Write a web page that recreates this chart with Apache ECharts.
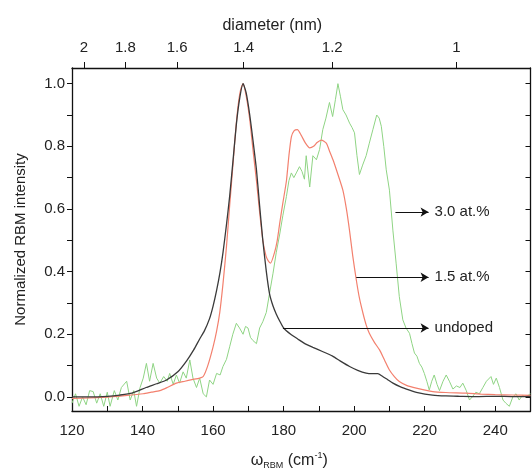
<!DOCTYPE html>
<html>
<head>
<meta charset="utf-8">
<script src="https://cdn.jsdelivr.net/npm/echarts@6/dist/echarts.min.js"></script>
<style>
  html, body { margin: 0; padding: 0; background: #fff; }
  #chart { width: 532px; height: 476px; }
</style>
</head>
<body>
<div id="chart"></div>
<script>
// [omega (cm-1), normalized intensity]
const undoped = [
  [120, 0.0], [125, 0.0], [130, 0.002], [133.6, 0.006], [137, 0.012], [141, 0.03], [144, 0.042],
  [146.8, 0.054], [150, 0.08], [152.5, 0.115], [154.5, 0.15], [156.2, 0.185], [157.5, 0.21],
  [159, 0.25], [160, 0.29], [161, 0.34], [162, 0.4], [162.8, 0.46], [163.8, 0.55], [164.7, 0.64],
  [165.7, 0.76], [166.6, 0.87], [167.5, 0.95], [168.5, 1.0], [169.4, 0.97], [170.4, 0.9],
  [171.3, 0.82], [172.3, 0.725], [173.2, 0.61], [174.1, 0.5], [175.1, 0.4], [176, 0.33],
  [177, 0.29], [177.9, 0.265], [179, 0.24], [180, 0.22], [182, 0.2], [184, 0.185], [186, 0.17],
  [188.3, 0.158], [191, 0.145], [193.9, 0.13], [196, 0.115], [198.7, 0.097], [201, 0.085],
  [203.4, 0.076], [205, 0.074], [206.7, 0.074], [208, 0.066], [209.5, 0.055], [211, 0.044],
  [213, 0.033], [215.7, 0.022], [218, 0.014], [222.2, 0.006], [226, 0.003], [230, 0.002],
  [235, 0.001], [240, 0.002], [245, 0.001], [250, 0.002]
];
const doped15 = [
  [120, -0.005], [125, -0.003], [130.8, 0.0], [135, 0.004], [140.2, 0.01], [142.5, 0.015],
  [144.9, 0.02], [147, 0.03], [149.6, 0.044], [152, 0.05], [154, 0.055], [156.2, 0.06],
  [157.2, 0.065], [158.5, 0.1], [160, 0.16], [161, 0.21], [161.9, 0.27], [162.8, 0.36],
  [163.8, 0.48], [164.7, 0.61], [165.7, 0.75], [166.4, 0.85], [167.1, 0.93], [167.8, 0.98],
  [168.5, 1.0], [169.4, 0.96], [170.4, 0.885], [171.3, 0.79], [172.3, 0.69], [173.2, 0.59],
  [174.1, 0.5], [175, 0.45], [175.6, 0.435], [176.3, 0.427], [177.4, 0.46], [178.2, 0.5],
  [178.9, 0.555], [179.8, 0.62], [180.8, 0.69], [181.5, 0.77], [182.2, 0.83], [183, 0.85],
  [183.9, 0.853], [185, 0.835], [186.2, 0.81], [187.4, 0.795], [188.5, 0.8], [189.5, 0.812],
  [190.7, 0.82], [192.1, 0.81], [193, 0.785], [194, 0.757], [195.4, 0.71], [196.8, 0.66],
  [197.8, 0.6], [198.7, 0.53], [199.6, 0.45], [200.6, 0.374], [201.5, 0.315], [202.5, 0.267],
  [203.4, 0.23], [204.3, 0.203], [205.7, 0.175], [207.2, 0.15], [208.6, 0.118], [210, 0.086],
  [211.4, 0.065], [212.8, 0.049], [215, 0.036], [217.6, 0.028], [222.3, 0.017], [226, 0.014],
  [231.7, 0.012], [236, 0.009], [240, 0.007], [245, 0.006], [250, 0.005]
];
const doped30 = [
  [120, -0.02], [121, 0.01], [122, -0.03], [123, 0.0], [124, -0.025], [125, 0.02], [126, 0.017],
  [127, -0.02], [128, 0.01], [129, -0.03], [130, 0.015], [130.8, -0.03], [132, 0.02], [133, -0.01],
  [134, 0.03], [135.5, 0.05], [136.5, -0.01], [137.5, 0.02], [138.3, -0.03], [139.3, 0.03],
  [140.2, 0.06], [141.1, 0.107], [142, 0.05], [143, 0.107], [144, 0.06], [144.9, 0.044],
  [146, 0.065], [147, 0.05], [147.7, 0.075], [148.7, 0.04], [149.6, 0.07], [150.5, 0.044],
  [151.5, 0.08], [152.4, 0.06], [153.4, 0.118], [154.3, 0.06], [155.3, 0.03], [156.2, 0.06],
  [157.2, 0.01], [158.1, 0.0], [159, 0.054], [160, 0.04], [161, 0.075], [162, 0.07], [162.8, 0.097],
  [163.8, 0.12], [164.7, 0.16], [165.6, 0.2], [166.6, 0.235], [167.5, 0.22], [168.5, 0.2],
  [169.2, 0.225], [169.9, 0.22], [170.6, 0.19], [171.3, 0.18], [172.3, 0.17], [173.2, 0.22],
  [174.1, 0.24], [175.1, 0.27], [176, 0.33], [177, 0.395], [177.9, 0.46], [178.9, 0.52],
  [179.8, 0.58], [180.8, 0.64], [181.5, 0.69], [182.2, 0.715], [182.9, 0.7], [183.6, 0.715],
  [184.5, 0.735], [185.2, 0.72], [185.9, 0.695], [186.4, 0.77], [187.4, 0.67], [188.3, 0.77],
  [189.3, 0.757], [190.2, 0.79], [191.1, 0.853], [192, 0.89], [193, 0.94], [193.9, 0.895],
  [194.7, 0.95], [195.4, 1.0], [196.1, 0.96], [196.8, 0.917], [197.7, 0.9], [198.7, 0.874],
  [199.4, 0.86], [200.1, 0.843], [200.8, 0.77], [201.5, 0.71], [202.4, 0.74], [203.4, 0.77],
  [204.3, 0.81], [205.3, 0.853], [206.4, 0.9], [207.1, 0.89], [207.7, 0.864], [208.4, 0.8],
  [209.1, 0.725], [210, 0.66], [211, 0.53], [211.9, 0.427], [212.8, 0.32], [213.8, 0.246],
  [214.7, 0.22], [215.7, 0.203], [216.4, 0.17], [217.1, 0.14], [217.8, 0.13], [218.5, 0.107],
  [219.2, 0.095], [219.9, 0.075], [220.6, 0.05], [221.3, 0.022], [222, 0.05], [222.7, 0.07],
  [223.5, 0.04], [224.2, 0.02], [225.2, 0.05], [226.1, 0.07], [227, 0.05], [228, 0.025],
  [229, 0.035], [230, 0.03], [230.8, 0.044], [231.8, 0.02], [232.7, -0.01], [233.5, 0.0],
  [234.5, 0.015], [235.5, 0.01], [236.5, 0.03], [237.5, 0.05], [238.8, 0.065], [239.5, 0.04],
  [240.3, 0.06], [241.2, 0.03], [242.2, -0.01], [243, -0.02], [244, -0.03], [245, 0.0],
  [245.9, 0.01], [246.8, -0.01], [247.7, 0.005], [248.7, 0.0], [250, 0.01]
];

const xLabels = [120, 140, 160, 180, 200, 220, 240];
const xTicks = [120, 130, 140, 150, 160, 170, 180, 190, 200, 210, 220, 230, 240, 250];
const yLabels = [0, 0.2, 0.4, 0.6, 0.8, 1.0];
const yTicks = [0, 0.1, 0.2, 0.3, 0.4, 0.5, 0.6, 0.7, 0.8, 0.9, 1.0];
const diameters = [2, 1.8, 1.6, 1.4, 1.2, 1];

// annotation arrows: label, start omega, end omega, intensity level
const notes = [
  ['3.0 at.%', 211.7, 221.1, 0.59],
  ['1.5 at.%', 200.6, 221.1, 0.382],
  ['undoped', 179.8, 221.1, 0.22]
];

// omega <-> diameter relation
const dToW = (d) => 211.2 / d + 17.8;
const wToD = (w) => parseFloat((211.2 / (w - 17.8)).toFixed(1));

const font = 'Liberation Sans, Arial, sans-serif';
const txt = '#222';

const chart = echarts.init(document.getElementById('chart'));

const arrowLines = notes.map((n) => [
  { coord: [n[1], n[3]] },
  { coord: [n[2], n[3]], label: { formatter: n[0] } }
]);

chart.setOption({
  animation: false,
  grid: { left: 72, right: 1.5, top: 68, bottom: 65, outerBoundsMode: 'none' },
  xAxis: [
    {
      type: 'value', position: 'bottom', min: 120, max: 250,
      name: '{w|ω}{sub|RBM} (cm{sup|-1})',
      nameLocation: 'middle', nameGap: 40,
      nameTextStyle: {
        color: txt, fontFamily: font, fontSize: 16, padding: [0, 24, 0, 0],
        rich: {
          w: { fontSize: 16, fontFamily: font, color: txt },
          sub: { fontSize: 9, fontFamily: font, color: txt, padding: [10, 0, 0, 0] },
          sup: { fontSize: 9, fontFamily: font, color: txt, padding: [0, 0, 9, 0] }
        }
      },
      axisLine: { onZero: false, lineStyle: { color: '#111', width: 1.3 } },
      axisTick: { inside: true, length: 5, customValues: xTicks, lineStyle: { color: '#111' } },
      axisLabel: { customValues: xLabels, color: txt, fontFamily: font, fontSize: 15, margin: 12 },
      splitLine: { show: false }
    },
    {
      type: 'value', position: 'top', min: 120, max: 250,
      name: 'diameter (nm)', nameLocation: 'middle', nameGap: 34,
      nameTextStyle: { color: txt, fontFamily: font, fontSize: 16, padding: [0, 58, 0, 0] },
      axisLine: { onZero: false, lineStyle: { color: '#111', width: 1.3 } },
      axisTick: { inside: false, length: 6, customValues: diameters.map(dToW), lineStyle: { color: '#111' } },
      axisLabel: {
        customValues: diameters.map(dToW), color: txt, fontFamily: font, fontSize: 15, margin: 13,
        formatter: (v) => String(wToD(v))
      },
      splitLine: { show: false }
    }
  ],
  yAxis: [
    {
      type: 'value', position: 'left', min: -0.045, max: 1.05,
      name: 'Normalized RBM intensity', nameLocation: 'middle', nameGap: 44, nameRotate: 90,
      nameTextStyle: { color: txt, fontFamily: font, fontSize: 15 },
      axisLine: { show: true, onZero: false, lineStyle: { color: '#111', width: 1.3 } },
      axisTick: { show: true, inside: false, length: 5, customValues: yTicks, lineStyle: { color: '#111' } },
      axisLabel: {
        customValues: yLabels, color: txt, fontFamily: font, fontSize: 15, margin: 7,
        formatter: (v) => v.toFixed(1)
      },
      splitLine: { show: false }
    },
    {
      type: 'value', position: 'right', min: -0.045, max: 1.05,
      axisLine: { show: true, onZero: false, lineStyle: { color: '#111', width: 1.3 } },
      axisTick: { show: true, inside: true, length: 5, customValues: yTicks, lineStyle: { color: '#111' } },
      axisLabel: { show: false },
      splitLine: { show: false }
    }
  ],
  series: [
    {
      name: '3.0 at.%', type: 'line', data: doped30, showSymbol: false, silent: true,
      lineStyle: { color: '#8fd484', width: 1 }
    },
    {
      name: '1.5 at.%', type: 'line', data: doped15, showSymbol: false, silent: true, smooth: 0.2,
      lineStyle: { color: '#f3806e', width: 1.2 }
    },
    {
      name: 'undoped', type: 'line', data: undoped, showSymbol: false, silent: true, smooth: 0.2,
      lineStyle: { color: '#3a3a3a', width: 1.3 },
      markLine: {
        silent: true, animation: false,
        symbol: ['none', 'arrow'], symbolSize: [7, 8],
        lineStyle: { color: '#111', width: 1.2, type: 'solid' },
        label: { show: true, position: 'end', distance: 6, color: txt, fontFamily: font, fontSize: 15 },
        data: arrowLines
      }
    }
  ]
});
</script>
</body>
</html>
